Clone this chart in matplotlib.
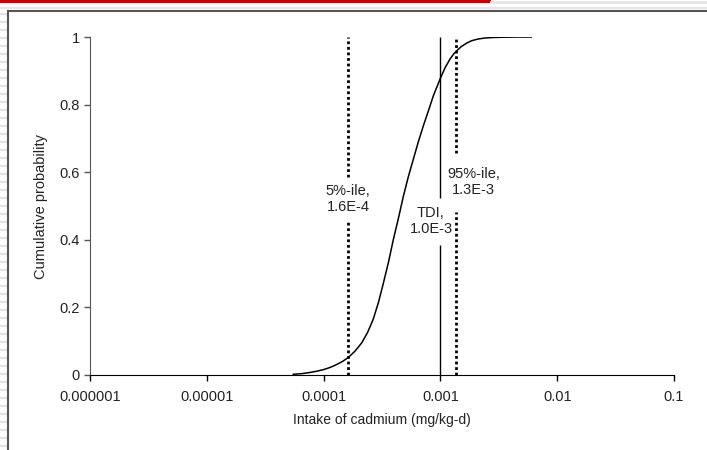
import matplotlib
matplotlib.use("Agg")
import matplotlib.pyplot as plt
from matplotlib.lines import Line2D
from matplotlib.patches import Rectangle

plt.rcParams['font.family'] = ['Liberation Sans', 'DejaVu Sans']

# cumulative distribution (intake in mg/kg-d)
intake = [5.5e-5, 6.5e-5, 7.5e-5, 8.7e-5, 1.0e-4, 1.13e-4, 1.26e-4, 1.45e-4,
          1.63e-4, 1.85e-4, 2.12e-4, 2.38e-4, 2.66e-4, 2.95e-4, 3.24e-4,
          3.6e-4, 3.95e-4, 4.38e-4, 4.82e-4, 5.3e-4, 5.86e-4, 6.45e-4,
          7.14e-4, 7.9e-4, 8.7e-4, 1.0e-3, 1.1e-3, 1.21e-3, 1.3e-3, 1.38e-3,
          1.5e-3, 1.68e-3, 1.85e-3, 2.1e-3, 2.4e-3, 2.8e-3, 3.4e-3, 4.3e-3,
          6.0e-3]
cum_prob = [0.002, 0.004, 0.007, 0.011, 0.016, 0.022, 0.029, 0.040,
            0.052, 0.070, 0.095, 0.126, 0.165, 0.215, 0.270,
            0.335, 0.400, 0.465, 0.529, 0.585, 0.638, 0.688,
            0.737, 0.782, 0.826, 0.878, 0.910, 0.935, 0.950, 0.959,
            0.971, 0.982, 0.989, 0.994, 0.997, 0.9985, 0.9993, 0.9998,
            1.0]

p5 = 1.63e-4
p95 = 1.37e-3
tdi = 1.0e-3

fs = 10.5
fig = plt.figure(figsize=(7.07, 4.5), dpi=100)
ax = fig.add_axes([90/707, 1-375/450, (674-90)/707, (375-37)/450])

ax.plot(intake, cum_prob, color='black', lw=1.1, zorder=3)

# vertical markers, broken where the labels sit
dots = (0, (1.0, 1.0))
ax.vlines([p5, p5], [0, 0.586], [0.452, 1], colors='black', linestyles=[dots], lw=2)
ax.vlines([p95, p95], [0, 0.657], [0.482, 1], colors='black', linestyles=[dots], lw=2)
ax.vlines([tdi, tdi], [0, 0.524], [0.385, 1], colors='black', lw=1)

ax.text(1.62e-4, 0.52, '5%-ile,\n1.6E-4', ha='center', va='center', fontsize=fs,
        color='#222222', zorder=4, linespacing=1.2, multialignment='center')
ax.text(1.93e-3, 0.571, '95%-ile,\n1.3E-3', ha='center', va='center', fontsize=fs,
        color='#222222', zorder=4, linespacing=1.2, multialignment='center')
ax.text(8.3e-4, 0.456, 'TDI,\n1.0E-3', ha='center', va='center', fontsize=fs,
        color='#222222', zorder=4, linespacing=1.2, multialignment='center')

ax.set_xscale('log')
ax.set_xlim(1e-6, 0.1)
ax.set_ylim(0, 1)
ax.set_xticks([1e-6, 1e-5, 1e-4, 1e-3, 1e-2, 1e-1])
ax.set_xticklabels(['0.000001', '0.00001', '0.0001', '0.001', '0.01', '0.1'])
ax.xaxis.set_minor_locator(matplotlib.ticker.NullLocator())
ax.set_yticks([0, 0.2, 0.4, 0.6, 0.8, 1])
ax.set_yticklabels(['0', '0.2', '0.4', '0.6', '0.8', '1'])
ax.tick_params(axis='both', labelsize=fs, labelcolor='#222222', direction='out', length=4, width=1)
ax.tick_params(axis='x', pad=7)
ax.tick_params(axis='y', colors='#555555', labelcolor='#222222')
for s in ['top', 'right']:
    ax.spines[s].set_visible(False)
ax.spines['left'].set_color('#555555')
ax.spines['bottom'].set_color('black')
ax.set_facecolor('none')

ax.set_xlabel('Intake of cadmium (mg/kg-d)', fontsize=10, color='#222222', labelpad=6)
ax.set_ylabel('Cumulative probability', fontsize=fs, color='#222222', labelpad=8)

# slide frame around the chart
for yy in range(14, 450, 8):
    fig.add_artist(Line2D([0, 7/707], [1-yy/450]*2, color='#e2e2e2', lw=1.5))
fig.add_artist(Line2D([0, 1], [1-8/450]*2, color='#e6e6e6', lw=1.5))
fig.add_artist(Line2D([491/707, 1], [1-1.5/450]*2, color='#e6e6e6', lw=2))
fig.add_artist(Rectangle((0, 1-3/450), 491/707, 3/450, color='#cc0000', lw=0))
fig.add_artist(Line2D([8/707, 1], [1-11/450]*2, color='#555555', lw=1.5))
fig.add_artist(Line2D([8/707]*2, [0, 1-11/450], color='#555555', lw=1.5))

fig.savefig('out.png', dpi=100)
